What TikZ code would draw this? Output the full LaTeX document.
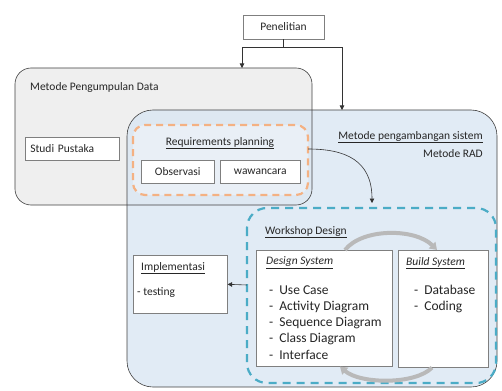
\documentclass[tikz,border=0pt]{standalone}
\usepackage{fontspec}
\setmainfont{Carlito}
\usetikzlibrary{arrows.meta}
\definecolor{grayfill}{HTML}{EFEFEF}
\definecolor{bluefill}{HTML}{DCE7F3}
\definecolor{orangedash}{HTML}{F4B183}
\definecolor{tealdash}{HTML}{4BACC6}
\definecolor{boxline}{HTML}{7F7F7F}
\tikzset{
  lbl/.style={font=\fontsize{11.5}{13}\selectfont, inner sep=0pt, text=black!85},
  itm/.style={font=\fontsize{13.5}{15}\selectfont, inner sep=0pt, anchor=west, text=black!85},
  wbox/.style={draw=boxline, fill=white, line width=0.6pt},
  conn/.style={draw=black!80, line width=0.6pt, -{Triangle[width=4.5pt,length=4.5pt]}},
  cyc/.style={draw=gray!55, line width=4pt, -{Triangle[width=9pt,length=7pt]}}
}
\begin{document}
\begin{tikzpicture}[x=1pt,y=-1pt]
\useasboundingbox (0,0) rectangle (502,390);
% containers fill
\fill[grayfill, rounded corners=16pt] (15,68) rectangle (312,205);
\fill[bluefill, fill opacity=0.85, rounded corners=26pt] (127,110) rectangle (497,387);
% outlines
\draw[black!75, line width=0.6pt, rounded corners=16pt] (15,68) rectangle (312,205);
\draw[black!75, line width=0.6pt, rounded corners=26pt] (127,110) rectangle (497,387);
\coordinate (grayTop) at (242,68);
\coordinate (blueTop) at (342,110);
% orange dashed
\draw[orangedash, line width=2.2pt, dash pattern=on 7pt off 5pt, fill=white!60!bluefill, fill opacity=0.6, rounded corners=12pt] (133,125) rectangle (308,195);
% teal dashed
\draw[tealdash, line width=2.2pt, dash pattern=on 8pt off 6pt, rounded corners=20pt] (247,208) rectangle (496,383);
\coordinate (tealTop) at (372,203);
\coordinate (tealLeft) at (247,285);
\coordinate (reqRight) at (308,149);
% Penelitian
\node[wbox, lbl, minimum width=81pt, minimum height=24pt] (pen) at (283.5,27) {Penelitian};
\draw[conn] (pen.south) -- ++(0,8) -| (grayTop);
\draw[conn] (pen.south) -- ++(0,8) -| (blueTop);
% labels
\node[lbl, anchor=west] (mpd) at (30,87) {Metode Pengumpulan Data};
\node[wbox, lbl, minimum width=94pt, minimum height=23pt, anchor=north west, text width=84pt, align=left] (sp) at (25,137) {Studi Pustaka};
\node[lbl] (reqlbl) at (220,143) {\underline{Requirements planning}};
\node[wbox, lbl, minimum width=73pt, minimum height=23pt, anchor=north west] (obs) at (141,160) {Observasi};
\node[wbox, lbl, minimum width=80pt, minimum height=23pt, anchor=north west] (waw) at (220,160) {wawancara};
\node[lbl, anchor=east] (mps) at (483,137) {\underline{Metode pengambangan sistem}};
\node[lbl, anchor=east] (rad) at (483,154) {Metode RAD};
\draw[conn] (reqRight) .. controls (345,149) and (372,160) .. (tealTop);
% workshop
\node[lbl, anchor=west] (wd) at (265,232) {\underline{Workshop Design}};
\node[wbox, minimum width=136pt, minimum height=116pt, anchor=north west] (ds) at (256,250) {};
\node[wbox, minimum width=90pt, minimum height=117pt, anchor=north west] (bs) at (398,250) {};
\node[lbl, anchor=west] (dst) at (266,263) {\underline{\itshape Design System}};
\node[itm] at (269,290) {-\hspace{6pt}Use Case};
\node[itm] at (269,306.5) {-\hspace{6pt}Activity Diagram};
\node[itm] at (269,323) {-\hspace{6pt}Sequence Diagram};
\node[itm] at (269,339) {-\hspace{6pt}Class Diagram};
\node[itm] at (269,355) {-\hspace{6pt}Interface};
\node[lbl, anchor=west] (bst) at (406,263) {\underline{\itshape Build System}};
\node[itm] at (414,290) {-\hspace{6pt}Database};
\node[itm] at (414,306.5) {-\hspace{6pt}Coding};
% cycle arrows
\draw[cyc] (ds.north -| 345,0) .. controls (362,228) and (415,228) .. (bs.north -| 437,0);
\draw[cyc] (bs.south -| 432,0) .. controls (415,385) and (360,384) .. (ds.south -| 340,0);
% Implementasi
\node[wbox, minimum width=94pt, minimum height=58pt, anchor=north west] (imp) at (133,255) {};
\node[lbl, anchor=west] at (141,268) {\underline{Implementasi}};
\node[lbl, anchor=west] at (137,293) {- testing};
\draw[conn] (tealLeft) -- (imp.east);
\end{tikzpicture}
\end{document}
